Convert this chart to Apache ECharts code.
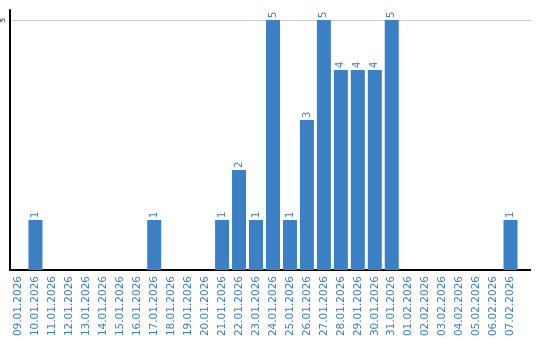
<!DOCTYPE html>
<html><head><meta charset="utf-8">
<script src="https://cdn.jsdelivr.net/npm/echarts@6/dist/echarts.min.js"></script>
<style>html,body{margin:0;padding:0;background:#fff}#c{width:540px;height:340px}</style>
</head><body><div id="c"></div>
<script>
const categories = ['09.01.2026','10.01.2026','11.01.2026','12.01.2026','13.01.2026','14.01.2026','15.01.2026','16.01.2026','17.01.2026','18.01.2026','19.01.2026','20.01.2026','21.01.2026','22.01.2026','23.01.2026','24.01.2026','25.01.2026','26.01.2026','27.01.2026','28.01.2026','29.01.2026','30.01.2026','31.01.2026','01.02.2026','02.02.2026','03.02.2026','04.02.2026','05.02.2026','06.02.2026','07.02.2026'];
const values = [0,1,0,0,0,0,0,0,1,0,0,0,1,2,1,5,1,3,5,4,4,4,5,0,0,0,0,0,0,1];
const yTicks = [5];

const blue = '#3b7fc4';
const chart = echarts.init(document.getElementById('c'));
chart.setOption({
  animation: false,
  grid: {left: 9, right: 21, top: 10, bottom: 70, containLabel: false},
  xAxis: {
    type: 'category', data: categories,
    axisLine: {lineStyle: {color: '#000', width: 2}},
    axisTick: {show: false},
    axisLabel: {rotate: 90, interval: 0, color: blue, fontFamily: 'DejaVu Sans', fontSize: 10.5, margin: 6}
  },
  yAxis: {
    type: 'value', min: 0, max: 5.2, interval: 5,
    axisLine: {show: true, lineStyle: {color: '#000', width: 2}},
    axisTick: {show: false},
    axisLabel: {
      showMaxLabel: false, showMinLabel: false, rotate: 90, margin: 3,
      color: '#000', fontFamily: 'DejaVu Sans', fontSize: 7,
      formatter: v => yTicks.includes(v) ? String(v) : ''
    },
    splitLine: {show: true, showMinLine: false, showMaxLine: false, lineStyle: {color: '#cccccc', width: 1}}
  },
  series: [{
    type: 'bar', data: values.map(v => v === 0 ? null : v), barWidth: 14,
    itemStyle: {color: blue},
    label: {
      show: true, position: 'top', rotate: 90, align: 'left', verticalAlign: 'middle', distance: 2,
      color: blue, fontFamily: 'DejaVu Sans', fontSize: 10
    }
  }]
});
// extend the axis line and grid line to the right as in the reference
const y0 = chart.convertToPixel({yAxisIndex: 0}, 0);
const y5 = chart.convertToPixel({yAxisIndex: 0}, yTicks[0]);
chart.setOption({graphic: [
  {type: 'line', shape: {x1: 518, y1: y0, x2: 531, y2: y0}, style: {stroke: '#000', lineWidth: 2}, silent: true},
  {type: 'line', shape: {x1: 518, y1: Math.round(y5) + 0.5, x2: 531, y2: Math.round(y5) + 0.5}, style: {stroke: '#cccccc', lineWidth: 1}, silent: true}
]});
</script></body></html>
